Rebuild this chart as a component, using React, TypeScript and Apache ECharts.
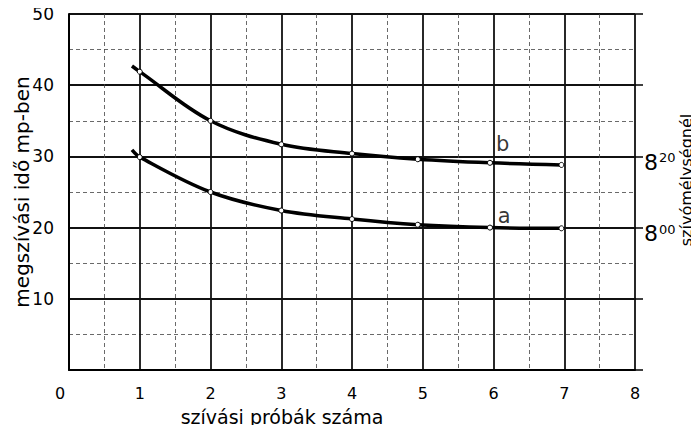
import React, { useEffect, useRef } from "react";
import * as echarts from "echarts";

const xTickLabels = ["0", "1", "2", "3", "4", "5", "6", "7", "8"];
const yTickLabels = ["0", "10", "20", "30", "40", "50"];
const rightLabels: Record<number, string> = { 20: "{n|8}{s|00}", 30: "{n|8}{s|20}" };

const bX = [0.89, 1, 2, 3, 4, 4.93, 5.95, 6.96];
const bY = [42.7, 41.9, 35.0, 31.7, 30.4, 29.6, 29.1, 28.8];
const aX = [0.89, 1, 2, 3, 4, 4.93, 5.95, 6.96];
const aY = [30.9, 29.9, 25.0, 22.4, 21.2, 20.4, 20.0, 19.9];

const curveNames = ["b", "a"];
const curveLabelX = [6.13, 6.15];
const curveLabelY = [31.8, 21.6];

const FONT = "DejaVu Sans";

function toData(xs: number[], ys: number[]) {
  return xs.map((x, i) =>
    i === 0 ? { value: [x, ys[i]], symbol: "none" } : { value: [x, ys[i]] }
  );
}

export default function App() {
  const ref = useRef<HTMLDivElement>(null);
  useEffect(() => {
    if (!ref.current) return;
    const chart = echarts.init(ref.current, null, { renderer: "svg" });
    const curveStyle = (w: number) => ({
      type: "line",
      smooth: 0.35,
      symbol: "circle",
      symbolSize: 5,
      itemStyle: { color: "#fff", borderColor: "#000", borderWidth: 1 },
      lineStyle: { color: "#000", width: w },
      z: 5,
    });
    chart.setOption({
      animation: false,
      backgroundColor: "#fff",
      grid: { left: 69, right: 64, top: 14, bottom: 63, outerBoundsMode: "none", containLabel: false },
      xAxis: {
        type: "value",
        min: 0,
        max: 8,
        interval: 1,
        name: "szívási próbák száma",
        nameLocation: "middle",
        nameGap: 37,
        nameMoveOverlap: false,
        nameTextStyle: { fontFamily: FONT, fontSize: 19, color: "#000", padding: [0, 140, 0, 0] },
        axisLine: { lineStyle: { color: "#000", width: 2 } },
        axisTick: { show: false },
        axisLabel: {
          margin: 15,
          fontFamily: FONT,
          fontSize: 16,
          color: "#000",
          formatter: (v: number) => (v === 0 ? "{z|" + xTickLabels[0] + "}" : xTickLabels[v]),
          rich: { z: { fontFamily: FONT, fontSize: 16, color: "#000", padding: [0, 18, 24, 0] } },
        },
        splitLine: { show: true, lineStyle: { color: "#111", width: 1.8 } },
        minorTick: { show: true, splitNumber: 2, length: 0 },
        minorSplitLine: { show: true, lineStyle: { color: "#444", width: 0.8, type: [4, 3] } },
      },
      yAxis: [
        {
          type: "value",
          min: 0,
          max: 50,
          interval: 10,
          name: "megszívási idő mp-ben",
          nameLocation: "middle",
          nameRotate: 90,
          nameGap: 37,
          nameMoveOverlap: false,
          nameTextStyle: { fontFamily: FONT, fontSize: 20, color: "#000" },
          axisLine: { show: true, lineStyle: { color: "#000", width: 2 } },
          axisTick: { show: false },
          axisLabel: {
            margin: 15,
            fontFamily: FONT,
            fontSize: 17,
            color: "#000",
            formatter: (v: number) => (v === 0 ? "" : yTickLabels[v / 10]),
          },
          splitLine: { show: true, lineStyle: { color: "#111", width: 1.8 } },
          minorTick: { show: true, splitNumber: 2, length: 0 },
          minorSplitLine: { show: true, lineStyle: { color: "#444", width: 0.8, type: [4, 3] } },
        },
        {
          type: "value",
          min: 0,
          max: 50,
          interval: 10,
          position: "right",
          name: "szívómélységnél",
          nameLocation: "middle",
          nameRotate: 90,
          nameGap: 43,
          nameMoveOverlap: false,
          nameTextStyle: { fontFamily: FONT, fontSize: 16, color: "#000", padding: [0, 0, 0, 24] },
          axisLine: { show: false },
          axisTick: { show: true, length: 8, inside: false, lineStyle: { color: "#000", width: 1.5 } },
          splitLine: { show: false },
          axisLabel: {
            margin: 9,
            color: "#000",
            padding: [12, 0, 0, 0],
            formatter: (v: number) => rightLabels[v] || "",
            rich: {
              n: { fontFamily: FONT, fontSize: 22, color: "#000" },
              s: { fontFamily: FONT, fontSize: 13, color: "#000", verticalAlign: "top", padding: [0, 0, 0, 1] },
            },
          },
        },
      ],
      series: [
        { ...curveStyle(3.5), name: "b", data: toData(bX, bY) },
        { ...curveStyle(3.5), name: "a", data: toData(aX, aY) },
        {
          type: "scatter",
          symbolSize: 1,
          itemStyle: { color: "rgba(0,0,0,0)" },
          data: curveNames.map((n, i) => ({ value: [curveLabelX[i], curveLabelY[i]], name: n })),
          label: {
            show: true,
            position: "inside",
            formatter: (p: any) => p.name,
            fontFamily: FONT,
            fontSize: 21,
            color: "#000",
          },
          z: 6,
        },
      ],
    });
    return () => chart.dispose();
  }, []);
  return <div ref={ref} style={{ width: 699, height: 433, margin: -8 }} />;
}
